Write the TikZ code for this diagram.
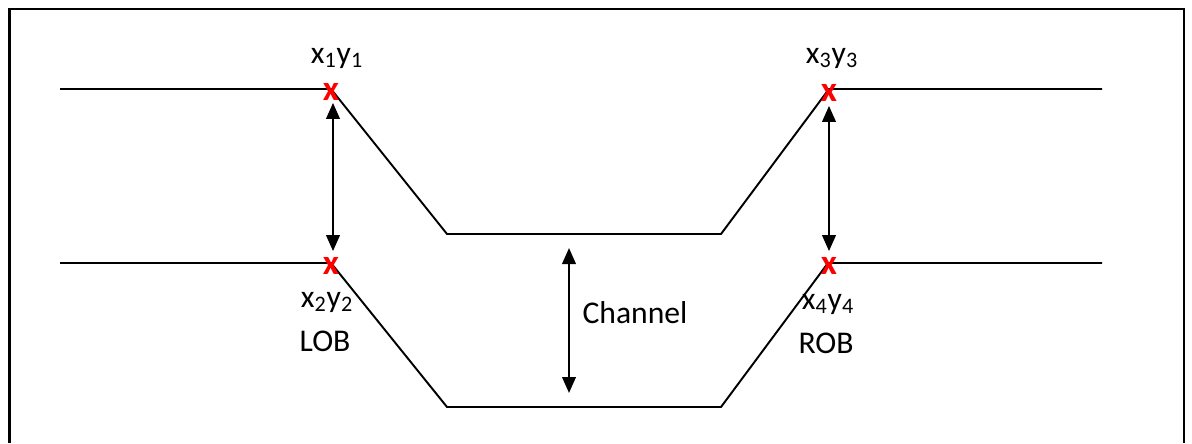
\documentclass[tikz,border=0pt]{standalone}
\usepackage{fontspec}
\setmainfont{Carlito}
\usetikzlibrary{arrows.meta}
\tikzset{
	bank/.style = {line width=1.1pt, line join=miter},
	dim/.style = {line width=1.3pt, {Triangle[width=0.27cm,length=0.32cm]}-{Triangle[width=0.27cm,length=0.32cm]}},
	cross/.style = {inner sep=0pt, text=red, font=\fontsize{20}{20}\selectfont\bfseries},
	lbl/.style = {inner sep=0pt, font=\fontsize{18}{21}\selectfont}
}
\begin{document}
\begin{tikzpicture}[x=0.02cm, y=-0.02cm]
		\useasboundingbox (0,0) rectangle (1192,443);
		\draw[line width=1.5pt] (9.5,443) -- (9.5,9) -- (1184,9) -- (1184,443);
		% upper section
		\coordinate (tl) at (60,89);
		\coordinate (c1) at (331,89);
		\coordinate (a1) at (447,234);
		\coordinate (a2) at (721,234);
		\coordinate (c3) at (829,89);
		\coordinate (tr) at (1102,89);
		% lower section
		\coordinate (bl) at (60,263);
		\coordinate (c2) at (331,263);
		\coordinate (b1) at (447,407);
		\coordinate (b2) at (721,407);
		\coordinate (c4) at (828,263);
		\coordinate (br) at (1102,263);
		\draw[bank] (tl) -- (c1) -- (a1) -- (a2) -- (c3) -- (tr);
		\draw[bank] (bl) -- (c2) -- (b1) -- (b2) -- (c4) -- (br);
		\node[cross] (p1) at (331,92) {x};
		\node[cross] (p2) at (331,266) {x};
		\node[cross] (p3) at (829,93) {x};
		\node[cross] (p4) at (829,266) {x};
		\draw[dim, shorten <=0.04cm, shorten >=0.12cm] ([xshift=0.04cm]p1.south) -- ([xshift=0.04cm]p2.north);
		\draw[dim, shorten <=0.08cm, shorten >=0.12cm] (p3.south) -- (p4.north);
		\coordinate (m1) at (569,234);
		\coordinate (m2) at (569,407);
		\draw[dim, shorten <=0.28cm, shorten >=0.28cm] (m1) -- (m2);
		\node[lbl] (ch) at (635,313) {Channel};
		\node[lbl] (l1) at (337,58) {x\textsubscript{1}y\textsubscript{1}};
		\node[lbl] (l3) at (832,58) {x\textsubscript{3}y\textsubscript{3}};
		\node[lbl] (l2) at (327,302) {x\textsubscript{2}y\textsubscript{2}};
		\node[lbl] (lob) at (325,341) {LOB};
		\node[lbl] (l4) at (828,304) {x\textsubscript{4}y\textsubscript{4}};
		\node[lbl] (rob) at (826,343) {ROB};
		
	\end{tikzpicture}
\end{document}
